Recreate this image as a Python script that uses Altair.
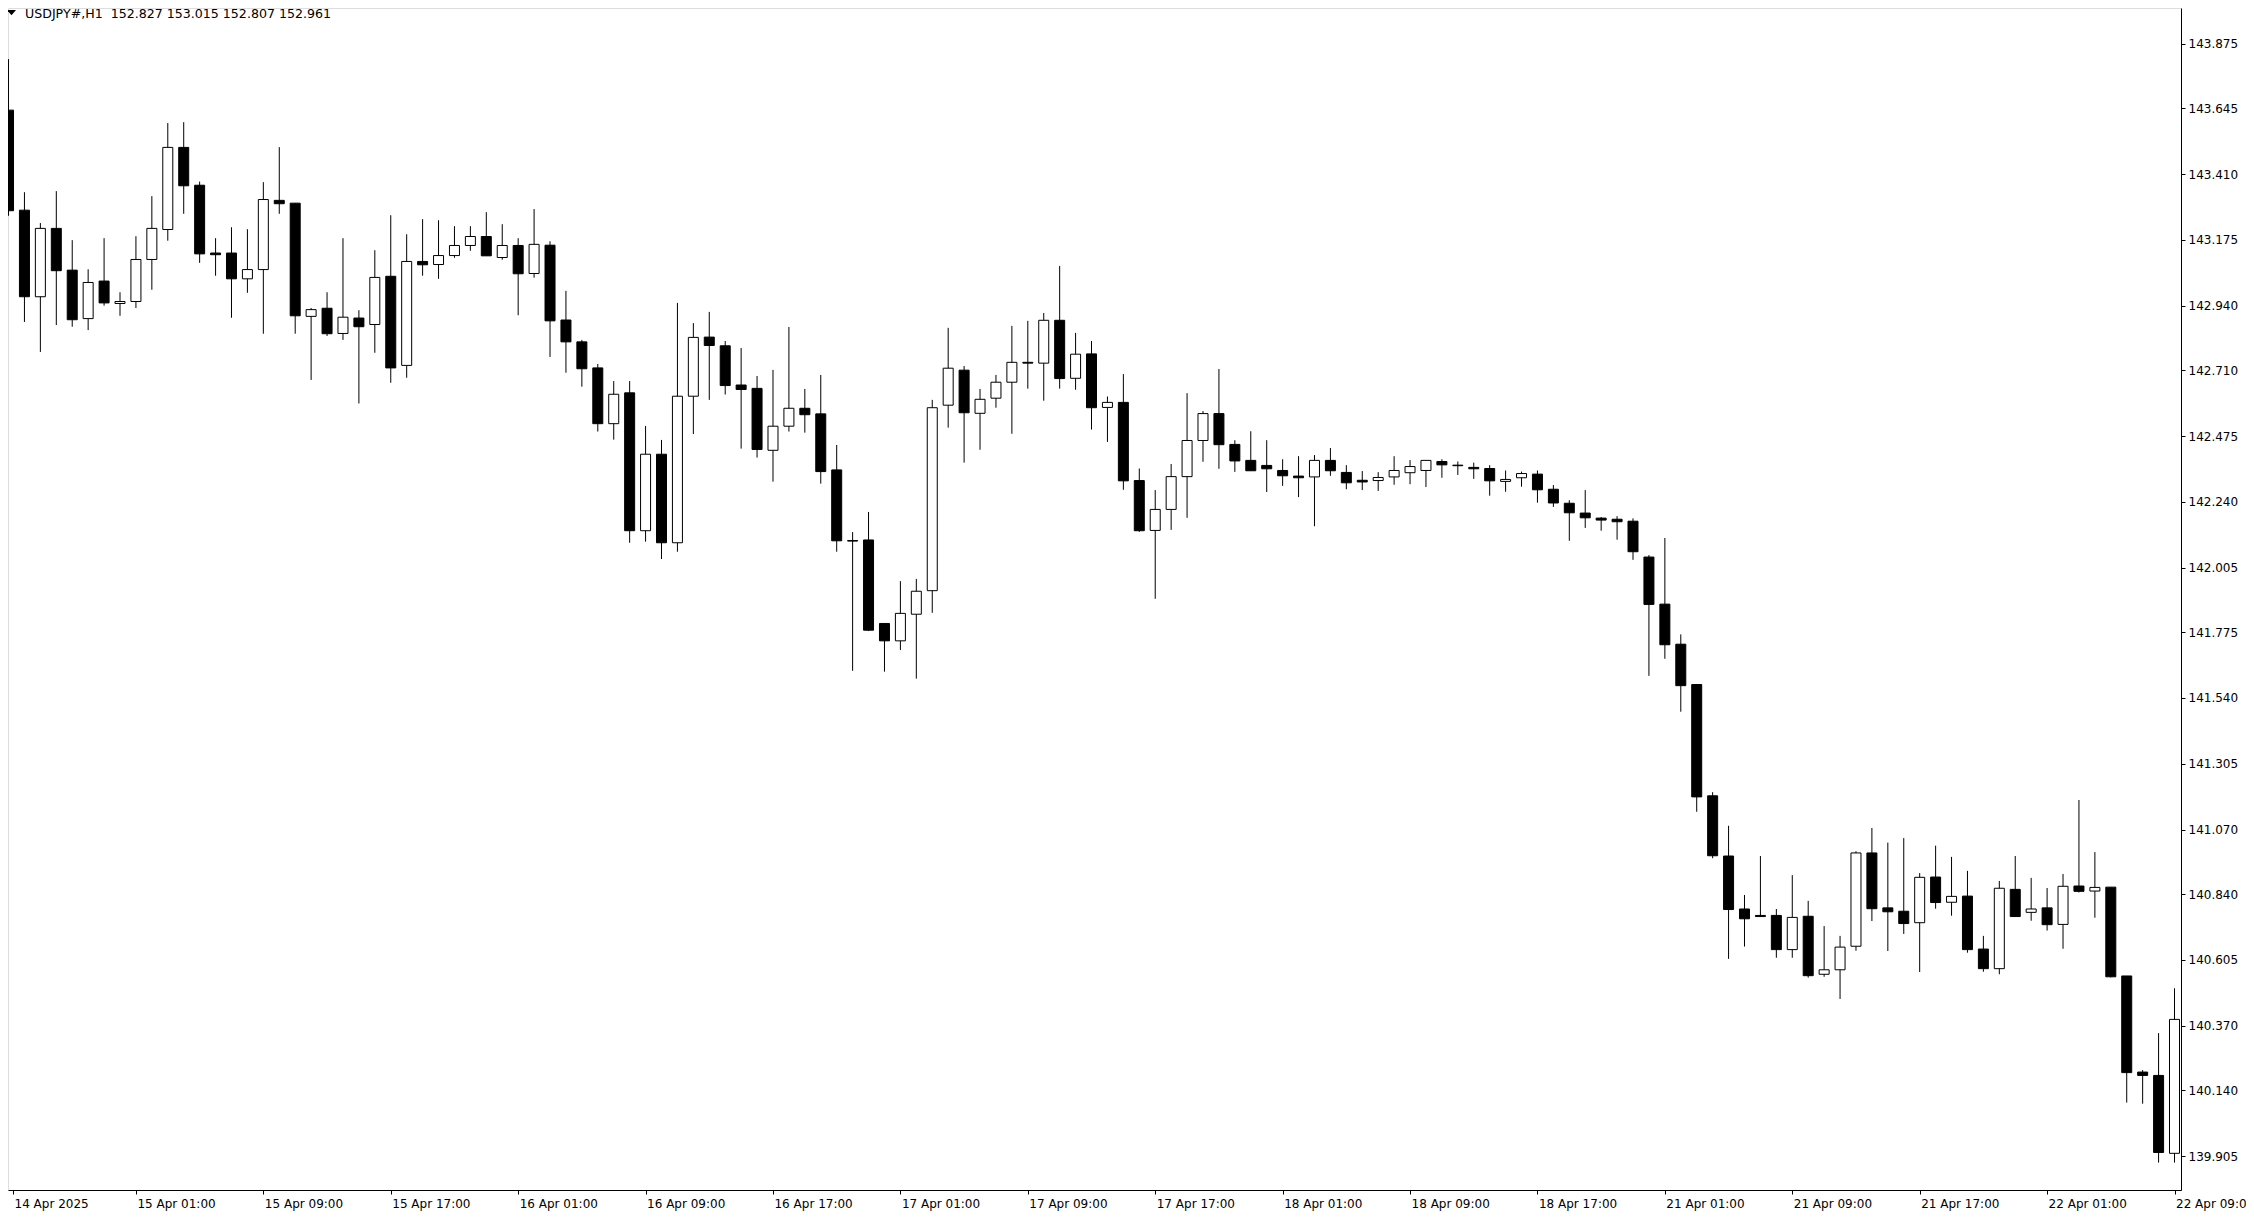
import altair as alt
import pandas as pd

# ---- data (USDJPY H1 candles) ----
time_labels = ["14 Apr 2025", "15 Apr 01:00", "15 Apr 09:00", "15 Apr 17:00",
               "16 Apr 01:00", "16 Apr 09:00", "16 Apr 17:00", "17 Apr 01:00",
               "17 Apr 09:00", "17 Apr 17:00", "18 Apr 01:00", "18 Apr 09:00",
               "18 Apr 17:00", "21 Apr 01:00", "21 Apr 09:00", "21 Apr 17:00",
               "22 Apr 01:00", "22 Apr 09:00"]
bars_per_label = 8

price_ticks = [143.875, 143.645, 143.410, 143.175, 142.940, 142.710, 142.475,
               142.240, 142.005, 141.775, 141.540, 141.305, 141.070, 140.840,
               140.605, 140.370, 140.140, 139.905]

title_text = "USDJPY#,H1 \u00a0152.827 153.015 152.807 152.961"

opens = [
    143.638, 143.281, 142.972, 143.216, 143.067, 142.894, 143.028, 142.948, 142.955, 143.105,
    143.212, 143.505, 143.370, 143.128, 143.128, 143.036, 143.069, 143.316, 143.306, 142.902,
    142.931, 142.841, 142.896, 142.873, 143.045, 142.727, 143.098, 143.087, 143.119, 143.155,
    143.187, 143.112, 143.155, 143.055, 143.156, 142.889, 142.811, 142.718, 142.519, 142.629,
    142.137, 142.410, 142.094, 142.617, 142.828, 142.797, 142.657, 142.645, 142.424, 142.510,
    142.574, 142.554, 142.354, 142.102, 142.104, 141.806, 141.744, 141.839, 141.923, 142.585,
    142.710, 142.556, 142.610, 142.667, 142.738, 142.735, 142.888, 142.681, 142.768, 142.577,
    142.595, 142.316, 142.138, 142.213, 142.330, 142.459, 142.555, 142.445, 142.388, 142.370,
    142.352, 142.332, 142.329, 142.388, 142.345, 142.317, 142.316, 142.329, 142.344, 142.352,
    142.384, 142.371, 142.363, 142.359, 142.313, 142.326, 142.339, 142.285, 142.235, 142.200,
    142.182, 142.178, 142.171, 142.043, 141.875, 141.732, 141.588, 141.191, 140.976, 140.787,
    140.764, 140.764, 140.642, 140.761, 140.554, 140.570, 140.654, 140.987, 140.791, 140.779,
    140.738, 140.901, 140.811, 140.833, 140.644, 140.574, 140.857, 140.775, 140.791, 140.732,
    140.869, 140.851, 140.865, 140.548, 140.205, 140.193, 139.915,
]
highs = [
    143.820, 143.345, 143.235, 143.349, 143.174, 143.070, 143.181, 142.988, 143.188, 143.331,
    143.592, 143.595, 143.383, 143.181, 143.220, 143.213, 143.381, 143.506, 143.306, 142.932,
    142.988, 143.181, 142.924, 143.138, 143.263, 143.195, 143.249, 143.245, 143.224, 143.224,
    143.274, 143.231, 143.181, 143.285, 143.170, 142.993, 142.818, 142.732, 142.671, 142.671,
    142.511, 142.461, 142.950, 142.878, 142.918, 142.814, 142.789, 142.689, 142.711, 142.864,
    142.643, 142.693, 142.443, 142.132, 142.204, 141.806, 141.957, 141.965, 142.604, 142.861,
    142.725, 142.643, 142.693, 142.868, 142.886, 142.914, 143.082, 142.843, 142.814, 142.616,
    142.696, 142.359, 142.282, 142.375, 142.628, 142.564, 142.714, 142.460, 142.492, 142.460,
    142.392, 142.403, 142.407, 142.432, 142.371, 142.350, 142.346, 142.403, 142.389, 142.388,
    142.392, 142.384, 142.380, 142.371, 142.352, 142.348, 142.352, 142.300, 142.246, 142.282,
    142.186, 142.189, 142.181, 142.050, 142.111, 141.767, 141.590, 141.204, 141.084, 140.837,
    140.976, 140.787, 140.908, 140.816, 140.726, 140.691, 140.993, 141.076, 141.024, 141.040,
    140.915, 141.013, 140.973, 140.923, 140.691, 140.887, 140.976, 140.898, 140.862, 140.912,
    141.176, 140.990, 140.865, 140.548, 140.212, 140.344, 140.504,
]
lows = [
    143.261, 142.882, 142.775, 142.871, 142.865, 142.853, 142.940, 142.904, 142.932, 142.997,
    143.172, 143.268, 143.093, 143.047, 142.897, 142.986, 142.840, 143.268, 142.840, 142.675,
    142.832, 142.818, 142.591, 142.772, 142.665, 142.683, 143.047, 143.036, 143.111, 143.136,
    143.118, 143.104, 142.906, 143.040, 142.757, 142.701, 142.651, 142.491, 142.462, 142.094,
    142.098, 142.036, 142.062, 142.482, 142.604, 142.623, 142.430, 142.398, 142.312, 142.491,
    142.487, 142.305, 142.062, 141.637, 141.779, 141.634, 141.711, 141.609, 141.844, 142.505,
    142.380, 142.426, 142.576, 142.483, 142.644, 142.601, 142.644, 142.640, 142.498, 142.454,
    142.283, 142.133, 141.894, 142.140, 142.183, 142.383, 142.358, 142.347, 142.351, 142.275,
    142.297, 142.257, 142.153, 142.333, 142.285, 142.282, 142.279, 142.301, 142.303, 142.293,
    142.326, 142.336, 142.322, 142.262, 142.276, 142.294, 142.237, 142.222, 142.101, 142.147,
    142.137, 142.105, 142.033, 141.619, 141.680, 141.491, 141.134, 140.968, 140.609, 140.653,
    140.760, 140.613, 140.613, 140.542, 140.545, 140.466, 140.638, 140.744, 140.637, 140.698,
    140.562, 140.788, 140.763, 140.631, 140.563, 140.554, 140.760, 140.745, 140.710, 140.645,
    140.846, 140.756, 140.543, 140.096, 140.092, 139.882, 139.882,
]
closes = [
    143.279, 142.972, 143.216, 143.065, 142.890, 143.023, 142.950, 142.955, 143.105, 143.216,
    143.505, 143.368, 143.125, 143.122, 143.036, 143.069, 143.319, 143.304, 142.904, 142.926,
    142.840, 142.899, 142.865, 143.041, 142.718, 143.098, 143.086, 143.119, 143.155, 143.187,
    143.118, 143.155, 143.054, 143.159, 142.886, 142.811, 142.715, 142.519, 142.624, 142.137,
    142.410, 142.094, 142.617, 142.827, 142.798, 142.655, 142.641, 142.427, 142.510, 142.574,
    142.551, 142.348, 142.101, 142.100, 141.782, 141.744, 141.842, 141.921, 142.576, 142.717,
    142.558, 142.606, 142.667, 142.738, 142.735, 142.888, 142.680, 142.767, 142.576, 142.595,
    142.315, 142.137, 142.213, 142.330, 142.459, 142.555, 142.444, 142.386, 142.351, 142.358,
    142.333, 142.326, 142.388, 142.351, 142.308, 142.311, 142.327, 142.352, 142.366, 142.388,
    142.372, 142.369, 142.358, 142.315, 142.320, 142.341, 142.283, 142.236, 142.201, 142.183,
    142.175, 142.169, 142.062, 141.874, 141.730, 141.584, 141.187, 140.977, 140.785, 140.752,
    140.760, 140.642, 140.757, 140.549, 140.570, 140.651, 140.987, 140.788, 140.777, 140.735,
    140.900, 140.810, 140.832, 140.642, 140.574, 140.861, 140.760, 140.787, 140.731, 140.868,
    140.850, 140.864, 140.545, 140.203, 140.193, 139.918, 140.393,
]

bar_index = list(range(len(opens)))
df = pd.DataFrame({
    "i": bar_index,
    "open": opens,
    "high": highs,
    "low": lows,
    "close": closes,
    "dir": ["up" if c > o else "down" for o, c in zip(opens, closes)],
})

FONT = "DejaVu Sans"
X_MIN, X_MAX = 0.28125, 136.09375
label_array = "[" + ",".join("'" + t + "'" for t in time_labels) + "]"
label_expr = label_array + "[round(datum.value / " + str(bars_per_label) + ")]"
x_tick_values = [X_MIN] + list(range(bars_per_label, len(opens), bars_per_label))

x_scale = alt.Scale(domain=[X_MIN, X_MAX], nice=False, zero=False)
y_scale = alt.Scale(domain=[139.7841, 144.0025], nice=False, zero=False)

x_axis = alt.Axis(
    orient="bottom", values=x_tick_values,
    labelExpr=label_expr, title=None, grid=False,
    domainColor="black", domainWidth=1, tickColor="black", tickWidth=1, tickSize=4,
    labelColor="black", labelFont=FONT, labelFontSize=12, labelAlign="left",
    labelBaseline="top", labelPadding=4, labelOffset=1, labelFlush=False,
    labelOverlap=False,
)
y_axis = alt.Axis(
    orient="right", values=price_ticks, format=".3f", title=None, grid=False,
    domainColor="black", domainWidth=1, tickColor="black", tickWidth=1, tickSize=4,
    labelColor="black", labelFont=FONT, labelFontSize=12, labelAlign="left",
    labelBaseline="middle", labelPadding=3, labelFlush=False, labelOverlap=False,
)

X = alt.X("i:Q", scale=x_scale, axis=x_axis)

wicks = alt.Chart(df).mark_rule(color="black", strokeWidth=1, clip=True).encode(
    x=X,
    y=alt.Y("low:Q", scale=y_scale, axis=y_axis),
    y2="high:Q",
)

bodies = alt.Chart(df).mark_bar(size=10, stroke="black", strokeWidth=1, clip=True).encode(
    x=X,
    y=alt.Y("open:Q", scale=y_scale, axis=y_axis),
    y2="close:Q",
    fill=alt.Fill("dir:N", scale=alt.Scale(domain=["up", "down"], range=["white", "black"]), legend=None),
)

title_df = pd.DataFrame({"t": [title_text]})
title = alt.Chart(title_df).mark_text(
    align="left", baseline="middle", font=FONT, fontSize=12.6, color="black"
).encode(text="t:N", x=alt.value(17), y=alt.value(6))

tri = alt.Chart(title_df).mark_point(
    shape="M-1,-0.6L1,-0.6L0,0.55Z", filled=True, color="black", size=81, opacity=1
).encode(x=alt.value(3.5), y=alt.value(4.8))

chart = alt.layer(wicks, bodies, title, tri).properties(
    width=2173, height=1182,
    padding={"left": 0, "top": 0, "right": 65, "bottom": 24},
    autosize=alt.AutoSizeParams(type="none"),
    background="white",
).configure_view(strokeWidth=0).configure(font=FONT)

chart.save("out.html", embed_options={"renderer": "svg", "actions": False})
